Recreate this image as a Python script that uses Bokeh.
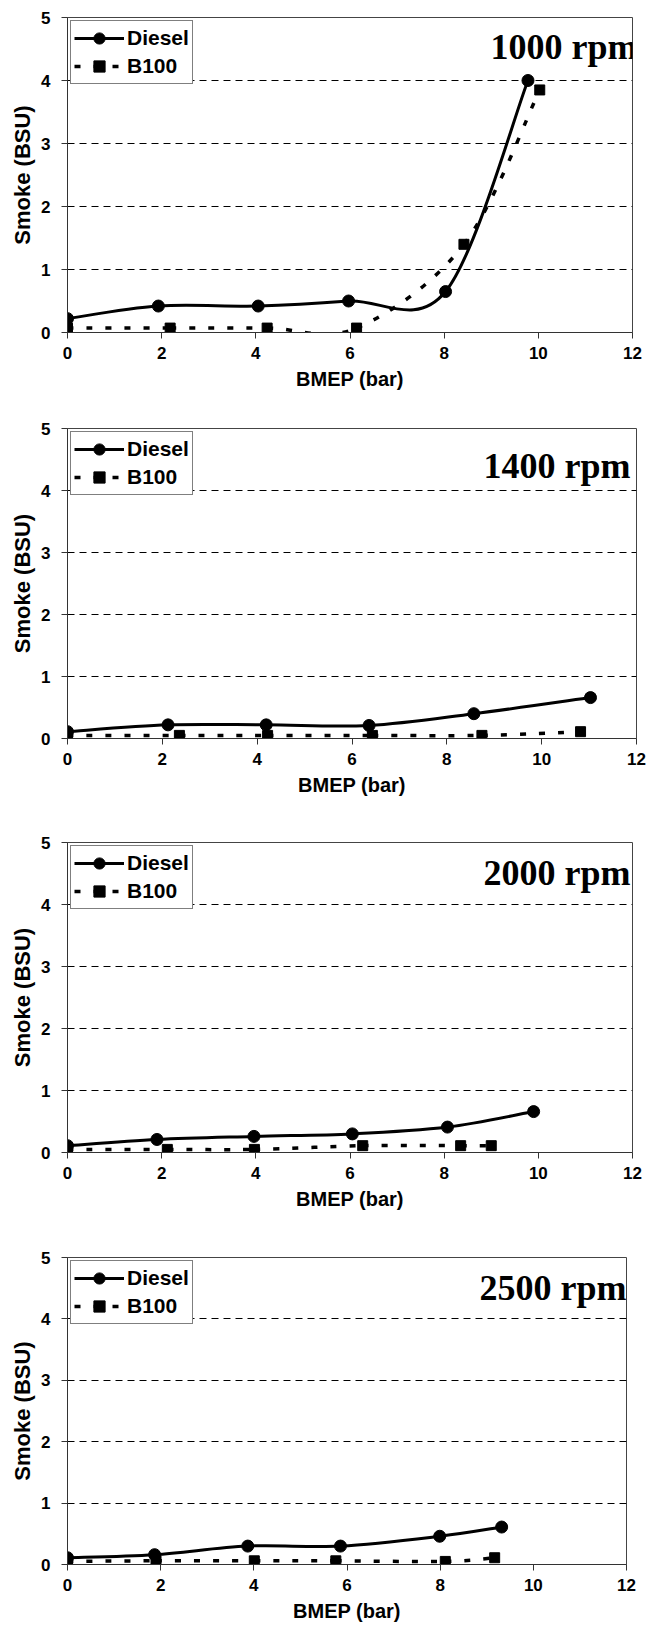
import numpy as np
from bokeh.plotting import figure
from bokeh.models import Range1d, FixedTicker, Legend, LegendItem, Label
from bokeh.layouts import column
from bokeh.embed import file_html
from bokeh.resources import INLINE

# ---------------- data ----------------
speed_labels = ["1000 rpm", "1400 rpm", "2000 rpm", "2500 rpm"]

diesel_x_1000 = [0.0, 1.93, 4.05, 5.97, 8.03, 9.78]
diesel_y_1000 = [0.22, 0.42, 0.42, 0.50, 0.65, 4.00]
b100_x_1000 = [0.0, 2.18, 4.24, 6.14, 8.42, 10.03]
b100_y_1000 = [0.07, 0.07, 0.07, 0.07, 1.40, 3.85]

diesel_x_1400 = [0.0, 2.12, 4.19, 6.36, 8.57, 11.03]
diesel_y_1400 = [0.11, 0.22, 0.22, 0.21, 0.40, 0.66]
b100_x_1400 = [0.0, 2.36, 4.22, 6.43, 8.74, 10.82]
b100_y_1400 = [0.05, 0.05, 0.05, 0.05, 0.05, 0.11]

diesel_x_2000 = [0.0, 1.90, 3.96, 6.05, 8.07, 9.90]
diesel_y_2000 = [0.11, 0.21, 0.26, 0.30, 0.41, 0.66]
b100_x_2000 = [0.0, 2.12, 3.97, 6.27, 8.35, 9.00]
b100_y_2000 = [0.05, 0.05, 0.05, 0.11, 0.11, 0.11]

diesel_x_2500 = [0.0, 1.87, 3.87, 5.86, 7.99, 9.32]
diesel_y_2500 = [0.11, 0.16, 0.30, 0.30, 0.46, 0.61]
b100_x_2500 = [0.0, 1.90, 4.01, 5.76, 8.11, 9.17]
b100_y_2500 = [0.05, 0.06, 0.06, 0.06, 0.05, 0.11]

x_ticks = [0, 2, 4, 6, 8, 10, 12]
y_ticks = [0, 1, 2, 3, 4, 5]

panels = [
    (speed_labels[0], diesel_x_1000, diesel_y_1000, b100_x_1000, b100_y_1000),
    (speed_labels[1], diesel_x_1400, diesel_y_1400, b100_x_1400, b100_y_1400),
    (speed_labels[2], diesel_x_2000, diesel_y_2000, b100_x_2000, b100_y_2000),
    (speed_labels[3], diesel_x_2500, diesel_y_2500, b100_x_2500, b100_y_2500),
]

# ---------------- layout / style ----------------
fig_w = 646
left_b = 67
frame_w = [565, 569, 565, 559]
frame_h = [315, 310, 310, 307]
top_b = [17, 30, 38, 39]
bottom_b = 66
title_dx = [5, -6, -2, 0]
title_dy = [-29, -37, -30, -30]

SANS = "Liberation Sans"
SERIF = "Liberation Serif"


def smooth_segments(xs, ys):
    """Excel-style smoothed line: cubic Bezier control points per segment."""
    x = np.asarray(xs, float)
    y = np.asarray(ys, float)
    n = len(x)
    seg = dict(x0=[], y0=[], x1=[], y1=[], cx0=[], cy0=[], cx1=[], cy1=[])
    for i in range(n - 1):
        ip = max(i - 1, 0)
        inn = min(i + 2, n - 1)
        seg["x0"].append(x[i]); seg["y0"].append(y[i])
        seg["x1"].append(x[i + 1]); seg["y1"].append(y[i + 1])
        seg["cx0"].append(x[i] + (x[i + 1] - x[ip]) / 6.0)
        seg["cy0"].append(y[i] + (y[i + 1] - y[ip]) / 6.0)
        seg["cx1"].append(x[i + 1] - (x[inn] - x[i]) / 6.0)
        seg["cy1"].append(y[i + 1] - (y[inn] - y[i]) / 6.0)
    return seg


figs = []
for k, (lab, dx, dy, bx, by) in enumerate(panels):
    p = figure(frame_width=frame_w[k], frame_height=frame_h[k],
               min_border_left=left_b, min_border_right=fig_w - left_b - frame_w[k],
               min_border_top=top_b[k], min_border_bottom=bottom_b,
               x_range=Range1d(0, 12), y_range=Range1d(0, 5),
               output_backend="svg", toolbar_location=None,
               background_fill_color="white", border_fill_color="white")
    p.outline_line_color = "#444444"
    p.outline_line_width = 1

    p.xgrid.visible = False
    p.ygrid.grid_line_color = "black"
    p.ygrid.grid_line_dash = "7 5"
    p.ygrid.grid_line_width = 1

    p.xaxis.ticker = FixedTicker(ticks=x_ticks)
    p.yaxis.ticker = FixedTicker(ticks=y_ticks)
    for ax in (p.xaxis[0], p.yaxis[0]):
        ax.axis_line_color = "#333333"
        ax.major_tick_line_color = "#333333"
        ax.major_tick_in = 0
        ax.major_tick_out = 6
        ax.minor_tick_line_color = None
        ax.major_label_text_font = SANS
        ax.major_label_text_font_style = "bold"
        ax.major_label_text_font_size = "17px"
        ax.major_label_text_color = "black"
        ax.axis_label_text_font = SANS
        ax.axis_label_text_font_style = "bold"
        ax.axis_label_text_font_size = "20px"
        ax.axis_label_text_color = "black"
    p.yaxis.axis_label_text_font_size = "22px"
    p.xaxis.axis_label = "BMEP (bar)"
    p.yaxis.axis_label = "Smoke (BSU)"
    p.xaxis.major_label_standoff = 8
    p.xaxis.axis_label_standoff = 6
    p.yaxis.major_label_standoff = 11
    p.yaxis.axis_label_standoff = 3

    ds = smooth_segments(dx, dy)
    bs = smooth_segments(bx, by)
    r_dl = p.bezier(source=ds, x0="x0", y0="y0", x1="x1", y1="y1",
                    cx0="cx0", cy0="cy0", cx1="cx1", cy1="cy1",
                    line_color="black", line_width=3)
    r_bl = p.bezier(source=bs, x0="x0", y0="y0", x1="x1", y1="y1",
                    cx0="cx0", cy0="cy0", cx1="cx1", cy1="cy1",
                    line_color="black", line_width=3.5, line_dash="6 13")
    r_dm = p.scatter(dx, dy, marker="circle", size=12, color="black")
    r_bm = p.scatter(bx, by, marker="square", size=10, color="black")

    legend = Legend(items=[LegendItem(label="Diesel", renderers=[r_dl, r_dm]),
                           LegendItem(label="B100", renderers=[r_bl, r_bm])],
                    location="top_left", margin=3, padding=3, spacing=0,
                    glyph_width=50, glyph_height=28, label_height=28,
                    label_standoff=3,
                    label_text_font=SANS, label_text_font_style="bold",
                    label_text_font_size="21px", label_text_color="black",
                    border_line_color="black", border_line_width=1.5,
                    background_fill_color="white", background_fill_alpha=1.0)
    p.add_layout(legend)

    title = Label(x=12, y=5, text=lab, text_align="right",
                  text_baseline="alphabetic",
                  x_offset=title_dx[k], y_offset=title_dy[k],
                  text_font=SERIF, text_font_style="bold",
                  text_font_size="36px", text_color="black")
    p.add_layout(title)
    figs.append(p)

layout = column(*figs, spacing=0)
open("out.html", "w").write(file_html(layout, INLINE))
